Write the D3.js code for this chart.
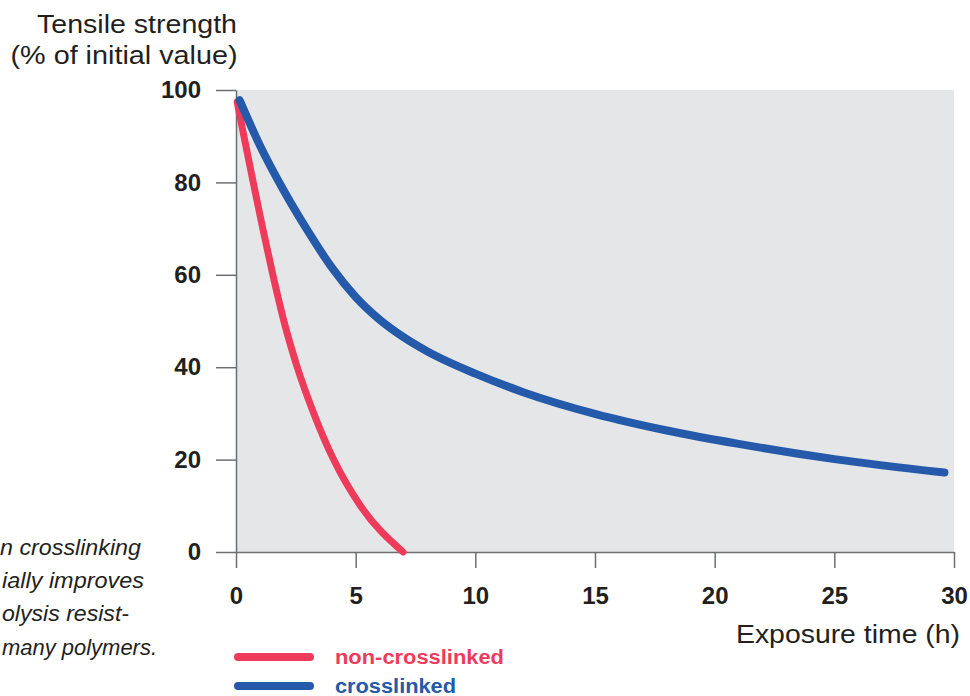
<!DOCTYPE html>
<html>
<head>
<meta charset="utf-8">
<script src="https://cdn.jsdelivr.net/npm/d3@7"></script>
<style>
  html, body { margin: 0; padding: 0; background: #ffffff; }
  svg { display: block; }
</style>
</head>
<body>
<svg id="chart" width="970" height="696"></svg>
<script>
// ---- data ----
const xTicks = [0, 5, 10, 15, 20, 25, 30];
const yTicks = [0, 20, 40, 60, 80, 100];

const nonCrossX = [0.05, 0.33, 0.72, 1.12, 1.54, 2.0, 2.56, 3.25, 4.08, 5.2, 6.98];
const nonCrossY = [97.4, 90, 80, 70, 60, 50, 40, 30, 20, 10, 0];

const crossX = [0.15, 1, 2, 3, 4, 5, 6, 7, 8, 10, 12, 15, 18, 21, 25, 29.6];
const crossY = [97.8, 88, 78.2, 69.5, 61.6, 55.2, 50.3, 46.5, 43.4, 38.6, 34.6, 29.9, 26.3, 23.4, 20.1, 17.2];

const seriesNames = ["non-crosslinked", "crosslinked"];
const seriesColors = ["#ee3b5b", "#2559a9"];

const yTitle = ["Tensile strength", "(% of initial value)"];
const xTitle = "Exposure time (h)";
const captionLines = ["n crosslinking", "ially improves", "olysis resist-", "many polymers."];

// ---- drawing ----
const svg = d3.select("#chart");
const x = d3.scaleLinear().domain([0, 30]).range([236, 954]);
const y = d3.scaleLinear().domain([0, 100]).range([552, 90]);

const axisColor = "#6d6e71";
const textColor = "#231f20";

svg.append("rect")
  .attr("x", x(0)).attr("y", y(100))
  .attr("width", x(30) - x(0)).attr("height", y(0) - y(100))
  .attr("fill", "#e5e6e8");

const yAxis = svg.append("g")
  .attr("transform", `translate(${x(0)},0)`)
  .call(d3.axisLeft(y).tickValues(yTicks).tickSize(20).tickSizeOuter(0).tickPadding(15));
const xAxis = svg.append("g")
  .attr("transform", `translate(0,${y(0)})`)
  .call(d3.axisBottom(x).tickValues(xTicks).tickSize(16).tickSizeOuter(0).tickPadding(19));

[yAxis, xAxis].forEach(g => {
  g.attr("font-size", null);
  g.selectAll("path.domain").attr("stroke", axisColor).attr("stroke-width", 1.5);
  g.selectAll(".tick line").attr("stroke", axisColor).attr("stroke-width", 1.5);
  g.selectAll(".tick text")
    .attr("fill", textColor)
    .style("font-family", "'Liberation Sans', Arial, sans-serif")
    .style("font-weight", "bold")
    .style("font-size", "24px");
});

const line = d3.line().x(d => x(d[0])).y(d => y(d[1])).curve(d3.curveMonotoneX);
const series = [
  d3.zip(nonCrossX, nonCrossY),
  d3.zip(crossX, crossY)
];
[0, 1].forEach(i => {
  svg.append("path")
    .datum(series[i])
    .attr("d", line)
    .attr("fill", "none")
    .attr("stroke", seriesColors[i])
    .attr("stroke-width", i === 0 ? 7 : 8)
    .attr("stroke-linecap", "round")
    .attr("stroke-linejoin", "round");
});

// y axis title
svg.append("text")
  .attr("x", 137).attr("y", 33)
  .attr("text-anchor", "middle")
  .attr("fill", textColor)
  .attr("textLength", 200).attr("lengthAdjust", "spacingAndGlyphs")
  .style("font-family", "'Liberation Sans', Arial, sans-serif")
  .style("font-size", "25px")
  .text(yTitle[0]);
svg.append("text")
  .attr("x", 124).attr("y", 64)
  .attr("text-anchor", "middle")
  .attr("fill", textColor)
  .attr("textLength", 227).attr("lengthAdjust", "spacingAndGlyphs")
  .style("font-family", "'Liberation Sans', Arial, sans-serif")
  .style("font-size", "25px")
  .text(yTitle[1]);

// x axis title
svg.append("text")
  .attr("x", 960).attr("y", 643)
  .attr("text-anchor", "end")
  .attr("fill", textColor)
  .attr("textLength", 224).attr("lengthAdjust", "spacingAndGlyphs")
  .style("font-family", "'Liberation Sans', Arial, sans-serif")
  .style("font-size", "25px")
  .text(xTitle);

// legend
const legendY = [657, 686];
const legendW = [169, 121];
seriesNames.forEach((name, i) => {
  svg.append("line")
    .attr("x1", 238).attr("x2", 310)
    .attr("y1", legendY[i]).attr("y2", legendY[i])
    .attr("stroke", seriesColors[i])
    .attr("stroke-width", 8)
    .attr("stroke-linecap", "round");
  svg.append("text")
    .attr("x", 335).attr("y", legendY[i] + 7)
    .attr("fill", seriesColors[i])
    .attr("textLength", legendW[i]).attr("lengthAdjust", "spacingAndGlyphs")
    .style("font-family", "'Liberation Sans', Arial, sans-serif")
    .style("font-weight", "bold")
    .style("font-size", "20px")
    .text(name);
});

// caption (cut off at left edge)
const capRight = [141, 144, 129, 157];
const capWidth = [141, 142, 127, 155];
captionLines.forEach((t, i) => {
  svg.append("text")
    .attr("x", capRight[i]).attr("y", 555 + i * 33.2)
    .attr("text-anchor", "end")
    .attr("fill", textColor)
    .attr("textLength", capWidth[i]).attr("lengthAdjust", "spacingAndGlyphs")
    .style("font-family", "'Liberation Sans', Arial, sans-serif")
    .style("font-style", "italic")
    .style("font-size", "22px")
    .text(t);
});
</script>
</body>
</html>
